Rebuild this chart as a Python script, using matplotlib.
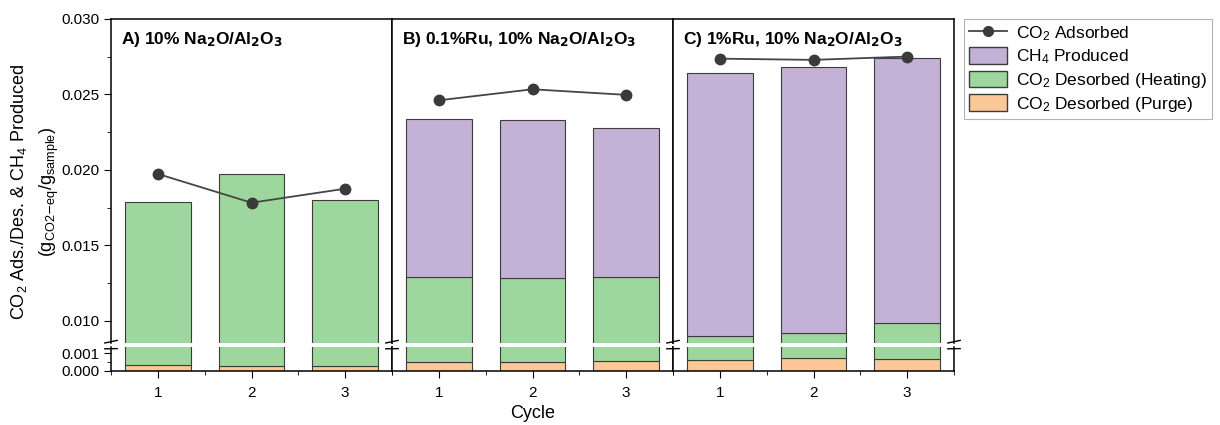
import numpy as np
import matplotlib.pyplot as plt
from matplotlib.lines import Line2D
from matplotlib.patches import Patch

plt.rcParams['font.family'] = ['Liberation Sans', 'DejaVu Sans']
plt.rcParams['mathtext.default'] = 'regular'

cycles = [1, 2, 3]
titles = ['A) 10% Na$_\\mathbf{2}$O/Al$_\\mathbf{2}$O$_\\mathbf{3}$',
          'B) 0.1%Ru, 10% Na$_\\mathbf{2}$O/Al$_\\mathbf{2}$O$_\\mathbf{3}$',
          'C) 1%Ru, 10% Na$_\\mathbf{2}$O/Al$_\\mathbf{2}$O$_\\mathbf{3}$']

# segment values per panel (g CO2-eq / g sample)
purge = [[0.00033, 0.00029, 0.00029],
         [0.00052, 0.00048, 0.00057],
         [0.00063, 0.00071, 0.00066]]
heating = [[0.01756, 0.01942, 0.01771],
           [0.01240, 0.01235, 0.01231],
           [0.00838, 0.00845, 0.00917]]
ch4 = [[0.0, 0.0, 0.0],
       [0.01045, 0.01046, 0.00988],
       [0.01744, 0.01766, 0.01757]]
adsorbed = [[0.01973, 0.01782, 0.01875],
            [0.02461, 0.02534, 0.02497],
            [0.02737, 0.02729, 0.02751]]

c_purge = '#fdc897'
c_heat = '#9dd79d'
c_ch4 = '#c3b1d6'
edge = '#3c3c3c'

fig = plt.figure(figsize=(12.2, 4.25), dpi=100)
W, H = 1220, 425
left0, pw = 111, 281
top, up_bot = 19, 343
lo_top, lo_bot = 347.3, 370.7

def brk(ax, x, y):
    ax.plot([x - 0.022, x + 0.022], [y - 0.004, y + 0.004], transform=ax.transAxes,
            color='black', lw=1, clip_on=False)

for i in range(3):
    x0 = (left0 + i * pw) / W
    ax_u = fig.add_axes([x0, 1 - up_bot / H, pw / W, (up_bot - top) / H])
    ax_l = fig.add_axes([x0, 1 - lo_bot / H, pw / W, (lo_bot - lo_top) / H])
    for ax in (ax_u, ax_l):
        p = np.array(purge[i]); h = np.array(heating[i]); c = np.array(ch4[i])
        ax.bar(cycles, p, 0.7, color=c_purge, edgecolor=edge, lw=0.8)
        ax.bar(cycles, h, 0.7, bottom=p, color=c_heat, edgecolor=edge, lw=0.8)
        if c.sum() > 0:
            ax.bar(cycles, c, 0.7, bottom=p + h, color=c_ch4, edgecolor=edge, lw=0.8)
        ax.set_xlim(0.5, 3.5)
    ax_u.plot(cycles, adsorbed[i], color='#454545', lw=1.3, marker='o', ms=7.5,
              mfc='#3a3a3a', mec='#3a3a3a')
    ax_u.set_ylim(0.00852, 0.030)
    ax_l.set_ylim(0, 0.00135)
    ax_u.spines['bottom'].set_visible(False)
    ax_l.spines['top'].set_visible(False)
    ax_u.tick_params(axis='x', which='both', bottom=False, labelbottom=False)
    ax_l.set_xticks(cycles)
    ax_l.set_xticks([0.5, 1.5, 2.5, 3.5], minor=True)
    ax_l.tick_params(axis='x', which='major', length=5, labelsize=11, pad=6)
    ax_l.tick_params(axis='x', which='minor', length=3)
    if i == 0:
        ax_u.set_yticks([0.010, 0.015, 0.020, 0.025, 0.030])
        ax_u.set_yticks([0.0125, 0.0175, 0.0225, 0.0275], minor=True)
        ax_l.set_yticks([0.000, 0.001])
        ax_l.set_yticks([0.0005], minor=True)
        for ax in (ax_u, ax_l):
            ax.yaxis.set_major_formatter(plt.FormatStrFormatter('%.3f'))
            ax.tick_params(axis='y', which='major', length=5, labelsize=11)
            ax.tick_params(axis='y', which='minor', length=3)
    else:
        for ax in (ax_u, ax_l):
            ax.tick_params(axis='y', which='both', left=False, labelleft=False)
    ax_u.text(0.035, 0.965, titles[i], transform=ax_u.transAxes, fontsize=12.5,
              fontweight='bold', va='top', ha='left')
    for sp in ax_u.spines.values():
        sp.set_linewidth(1.1)
    for sp in ax_l.spines.values():
        sp.set_linewidth(1.1)
    brk(ax_u, 0, 0.004)
    brk(ax_l, 0, 1 - 0.06)
    if i == 2:
        brk(ax_u, 1, 0.004)
        brk(ax_l, 1, 1 - 0.06)

fig.text(19 / W, 1 - 192 / H, 'CO$_2$ Ads./Des. & CH$_4$ Produced', rotation=90,
         ha='center', va='center', fontsize=13)
fig.text(49 / W, 1 - 192 / H, '(g$_{CO2\\mathrm{-}eq}$/g$_{sample}$)', rotation=90,
         ha='center', va='center', fontsize=13)
fig.text((left0 + 1.5 * pw) / W, 1 - 413 / H, 'Cycle', ha='center', va='center',
         fontsize=13)

handles = [Line2D([], [], color='#454545', lw=1.3, marker='o', ms=7, mfc='#3a3a3a',
                  mec='#3a3a3a'),
           Patch(facecolor=c_ch4, edgecolor=edge),
           Patch(facecolor=c_heat, edgecolor=edge),
           Patch(facecolor=c_purge, edgecolor=edge)]
labels = ['CO$_2$ Adsorbed', 'CH$_4$ Produced', 'CO$_2$ Desorbed (Heating)',
          'CO$_2$ Desorbed (Purge)']
leg = fig.legend(handles, labels, loc='upper left', bbox_to_anchor=(964 / W, 1 - 19 / H),
                 fontsize=12.5, frameon=True, fancybox=False, edgecolor='#a0a0a0',
                 handlelength=2.2, handleheight=1.1, borderaxespad=0, labelspacing=0.25,
                 borderpad=0.3, handletextpad=0.5)
leg.get_frame().set_linewidth(0.8)

fig.savefig('out.png', dpi=100)
